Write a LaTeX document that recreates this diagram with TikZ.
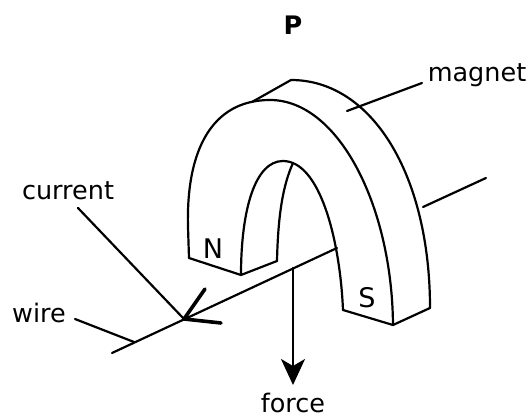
\documentclass[tikz,border=0pt]{standalone}
\usepackage{fontspec}
\setmainfont{DejaVu Sans}
\usetikzlibrary{arrows.meta}
\tikzset{
  lbl/.style={inner sep=0pt,font=\fontsize{25.5}{28}\selectfont,text=black},
  pole/.style={inner sep=0pt,font=\fontsize{27}{30}\selectfont},
  ln/.style={line width=2.2pt,line cap=round,line join=round,black}
}
\begin{document}
\begin{tikzpicture}[x=1pt,y=-1pt]
\useasboundingbox (0,0) rectangle (531,417);
\node[lbl,font=\fontsize{25.5}{28}\selectfont\bfseries] (title) at (293,25) {P};
\node[lbl] (magnetlbl) at (477,75) {magnet};
\node[lbl] (currentlbl) at (68,191) {current};
\node[lbl] (wirelbl) at (39,313) {wire};
\node[lbl] (forcelbl) at (293,402.5) {force};
\node[pole] (N) at (213,249) {N};
\node[pole] (S) at (367,298) {S};
% points
\coordinate (nol) at (189,258);
\coordinate (nb) at (241,275);
\coordinate (nr) at (277,261);
\coordinate (sl) at (343,310);
\coordinate (sb) at (393,325);
\coordinate (sr) at (430,308);
\coordinate (ft) at (252,102);
\coordinate (bt) at (291,80);
\coordinate (it) at (293,163);
% front outer arc
\draw[ln] (nol) -- (188,227) .. controls (186,150) and (212,100) .. (270,100) .. controls (338,100) and (392,205) .. (sb);
% back arc
\draw[ln] (bt) .. controls (372,80) and (430,175) .. (sr);
% inner arc
\draw[ln] (sl) .. controls (340,240) and (320,161) .. (283,161) .. controls (255,161) and (241,210) .. (nb);
% inner back
\draw[ln] (nr) .. controls (278,215) and (283,185) .. (it);
\draw[ln] (nol) -- (nb) -- (nr);
\draw[ln] (sl) -- (sb) -- (sr);
\draw[ln] (ft) -- (bt);
% wire
\coordinate (wa) at (337,248);
\coordinate (wb) at (112,353);
\coordinate (wc) at (423,207);
\coordinate (wd) at (486,178);
\coordinate (tip) at (184,319);
\coordinate (wj) at (134,342);
\coordinate (fs) at (293,268);
\coordinate (fe) at (293,385);
\draw[ln] (wa) -- (wb);
\draw[ln] (wc) -- (wd);
\draw[line width=3.6pt,line cap=round,line join=round] (205,289) -- (tip) -- (221,323);
% leaders
\coordinate (c0) at (78,208);
\coordinate (w0) at (75,319);
\coordinate (m0) at (347,111);
\coordinate (m1) at (422,83);
\draw[ln] (c0) -- (tip);
\draw[ln] (w0) -- (wj);
\draw[ln] (m0) -- (m1);
% force
\draw[ln,-{Stealth[length=26pt,width=24pt,inset=7pt]}] (fs) -- (fe);
\end{tikzpicture}
\end{document}
